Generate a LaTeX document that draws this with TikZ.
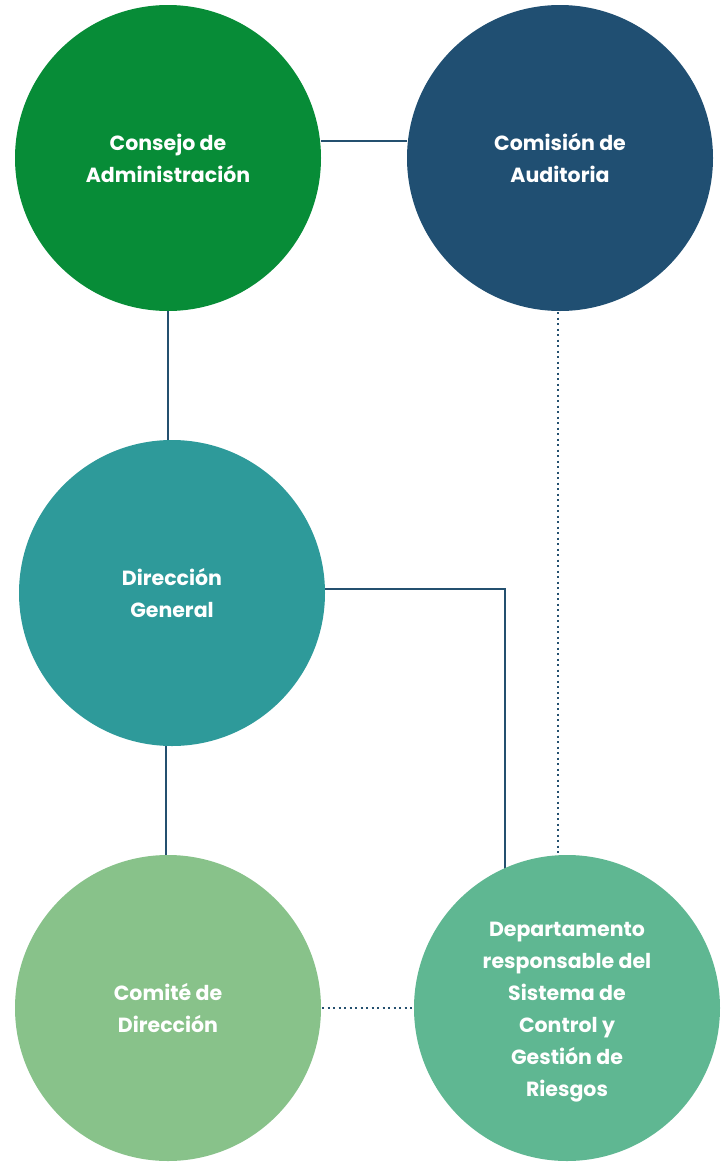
\documentclass[tikz,border=0pt]{standalone}
\usepackage{fontspec}
\setmainfont{Poppins}
\definecolor{cGreen}{HTML}{078C37}
\definecolor{cNavy}{HTML}{204F72}
\definecolor{cTeal}{HTML}{2E9A9A}
\definecolor{cLight}{HTML}{88C28A}
\definecolor{cMint}{HTML}{5FB792}
\definecolor{cLine}{HTML}{24506F}
\tikzset{
  bubble/.style={circle, minimum size=306pt, inner sep=0pt, text=white, align=center,
    font=\fontsize{20.5}{32}\selectfont\bfseries},
  solidlink/.style={draw=cLine, line width=2.2pt},
  dotlink/.style={draw=cLine, line width=2.2pt, dash pattern=on 2pt off 3.5pt},
}
\begin{document}
\begin{tikzpicture}[x=1pt,y=-1pt]
\useasboundingbox (0,0) rectangle (727,1162);
% connectors (behind)
\coordinate (c1) at (168,158);
\coordinate (c2) at (560,158);
\coordinate (c3) at (172,593);
\coordinate (c4) at (168,1008);
\coordinate (c5) at (567,1008);
\coordinate (j1) at (321,141);
\coordinate (j2) at (407,141);
\coordinate (k) at (505,589);
\coordinate (kb) at (505,870);
\draw[solidlink] (j1) -- (j2);
\draw[solidlink] (168,300) coordinate (a1) -- (168,450) coordinate (a2);
\draw[dotlink] (558,312) coordinate (b1) -- (558,857) coordinate (b2);
\draw[solidlink] (320,589) coordinate (d1) -- (k) -- (kb);
\draw[solidlink] (166,740) coordinate (e1) -- (166,860) coordinate (e2);
\draw[dotlink] (322,1008) coordinate (f1) -- (414,1008) coordinate (f2);
% circles
\node[bubble, fill=cGreen] (cons) at (c1) {Consejo de\\Administración};
\node[bubble, fill=cNavy] (comi) at (c2) {Comisión de\\Auditoria};
\node[bubble, fill=cTeal] (dg) at (c3) {Dirección\\General};
\node[bubble, fill=cLight] (comite) at (c4) {Comité de\\Dirección};
\node[bubble, fill=cMint] (dep) at (c5) {};
\node[text=white, align=center, font=\fontsize{20.5}{32}\selectfont\bfseries] (deptxt) at ([yshift=-4pt]c5) {Departamento\\responsable del\\Sistema de\\Control y\\Gestión de\\Riesgos};
\end{tikzpicture}
\end{document}
